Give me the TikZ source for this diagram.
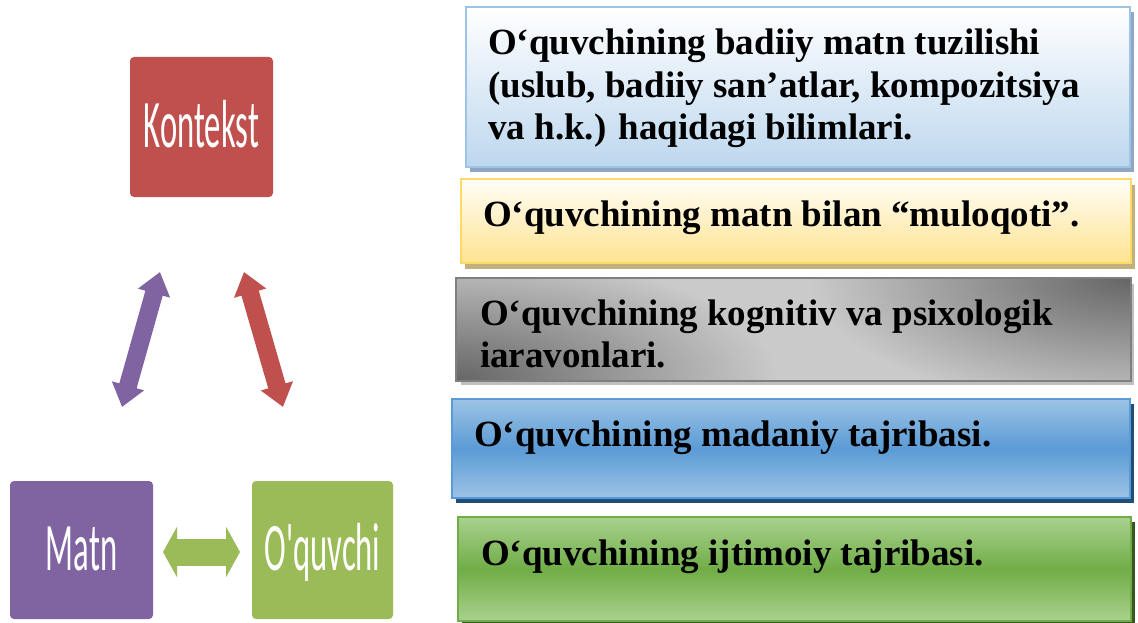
\documentclass[tikz,border=0pt]{standalone}
\usepackage{fontspec}
\setmainfont{Liberation Serif}
\newfontfamily\calfont{Carlito}
\usetikzlibrary{arrows.meta,shadows,fadings}
\tikzfading[name=cornerfade, inner color=transparent!0, outer color=transparent!100]
\definecolor{kred}{HTML}{C0504D}
\definecolor{mpurple}{HTML}{8064A2}
\definecolor{ogreen}{HTML}{9BBB59}
\definecolor{aBorder}{HTML}{9DC3E6}
\definecolor{aBottom}{HTML}{BDD7EE}
\definecolor{aShadow}{HTML}{8FA7C2}
\definecolor{bBorder}{HTML}{FFD966}
\definecolor{bTop}{HTML}{FFFDF7}
\definecolor{bBottom}{HTML}{FFE390}
\definecolor{bShadow}{HTML}{C2B07E}
\definecolor{cBorder}{HTML}{7F7F7F}
\definecolor{cLight}{HTML}{CACACA}
\definecolor{cDark}{HTML}{666666}
\definecolor{cShadow}{HTML}{BFBFBF}
\definecolor{dBorder}{HTML}{5B9BD5}
\definecolor{dLight}{HTML}{9DC3E6}
\definecolor{dMid}{HTML}{5B9BD5}
\definecolor{dShadow}{HTML}{1F4E79}
\definecolor{eBorder}{HTML}{70AD47}
\definecolor{eLight}{HTML}{A9D18E}
\definecolor{eMid}{HTML}{70AD47}
\definecolor{eShadow}{HTML}{385723}
\tikzset{
  conceptbox/.style={rectangle, rounded corners=4pt, inner sep=0pt,
    text=white, text height=41pt, text depth=0pt,
    font=\calfont\fontsize{68}{68}\selectfont},
  fatarrow/.style={line width=18pt,
    arrows={Triangle[width=32pt,length=22pt]-Triangle[width=32pt,length=22pt]}},
  greenarrow/.style={line width=27pt, draw=ogreen,
    arrows={Triangle[width=50pt,length=14pt]-Triangle[width=50pt,length=14pt]}},
  infobox/.style={rectangle, inner sep=0pt, line width=2pt},
  infotext/.style={anchor=base west, inner sep=0pt, text=black,
    font=\bfseries\fontsize{37}{42.5}\selectfont},
}
\newcommand{\squeeze}[1]{\scalebox{0.48}[1]{#1}}
\begin{document}
\begin{tikzpicture}[x=1pt,y=-1pt]
\useasboundingbox (0,0) rectangle (1138,623);

% left concept boxes
\node[conceptbox, fill=kred, minimum width=143pt, minimum height=140pt] (K) at (201.5,127) {\squeeze{Kontekst}};
\node[conceptbox, fill=mpurple, minimum width=143pt, minimum height=138pt] (M) at (81.5,550) {\squeeze{Matn}};
\node[conceptbox, fill=ogreen, minimum width=141pt, minimum height=138pt] (O) at (322.5,550) {\squeeze{O'quvchi}};

% arrows
\coordinate (pA) at (160,272);
\coordinate (pB) at (122,407);
\coordinate (rA) at (244,272);
\coordinate (rB) at (283,407);
\coordinate (gA) at (163,552);
\coordinate (gB) at (240,552);
\draw[fatarrow, draw=mpurple, fill=mpurple] (pA) -- (pB);
\draw[fatarrow, draw=kred, fill=kred] (rA) -- (rB);
\draw[greenarrow, fill=ogreen] (gA) -- (gB);

% info box 1
\node[infobox, draw=aBorder, top color=white, bottom color=aBottom,
  general shadow={fill=aShadow, shadow xshift=4pt, shadow yshift=-5pt},
  minimum width=664pt, minimum height=160pt] (b1) at (798,87) {};
\node[infotext] (t1) at (488,55) {\begin{tabular}[t]{@{}l@{}}O‘quvchining badiiy matn tuzilishi\\(uslub, badiiy san’atlar, kompozitsiya\\va h.k.) haqidagi bilimlari.\end{tabular}};

% info box 2
\node[infobox, draw=bBorder, top color=bTop, bottom color=bBottom,
  general shadow={fill=bShadow, shadow xshift=4pt, shadow yshift=-6pt},
  minimum width=670pt, minimum height=84pt] (b2) at (796,221) {};
\node[infotext] (t2) at (483,226) {O‘quvchining matn bilan “muloqoti”.};

% info box 3
\node[infobox, fill=cLight,
  general shadow={fill=cShadow, shadow xshift=4pt, shadow yshift=-5pt},
  minimum width=673pt, minimum height=101pt] (b3) at (793.5,329.5) {};
\begin{scope}
  \clip (b3.north west) rectangle (b3.south east);
  \fill[cDark, path fading=cornerfade] (b3.north east) ellipse [x radius=320, y radius=130];
  \fill[cDark, path fading=cornerfade] (b3.south west) ellipse [x radius=320, y radius=130];
\end{scope}
\draw[line width=2pt, cBorder] (b3.north west) rectangle (b3.south east);
\node[infotext] (t3) at (480,325) {\begin{tabular}[t]{@{}l@{}}O‘quvchining kognitiv va psixologik\\iaravonlari.\end{tabular}};

% info box 4
\node[infobox, draw=dBorder, top color=dLight, bottom color=dLight, middle color=dMid,
  general shadow={fill=dShadow, shadow xshift=4pt, shadow yshift=-5pt},
  minimum width=678pt, minimum height=99pt] (b4) at (791,448.5) {};
\node[infotext] (t4) at (474,446) {O‘quvchining madaniy tajribasi.};

% info box 5
\node[infobox, draw=eBorder, top color=eLight, bottom color=eLight, middle color=eMid,
  general shadow={fill=eShadow, shadow xshift=4pt, shadow yshift=-5pt},
  minimum width=673pt, minimum height=104pt] (b5) at (794.5,569) {};
\node[infotext] (t5) at (481,565) {O‘quvchining ijtimoiy tajribasi.};
\end{tikzpicture}
\end{document}
